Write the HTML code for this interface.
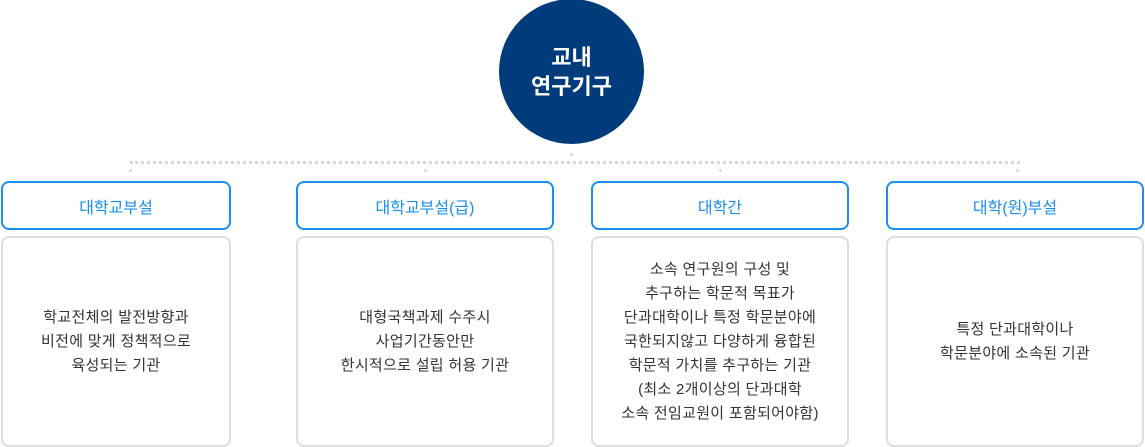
<!DOCTYPE html>
<html><head><meta charset="utf-8"><style>
body{margin:0;width:1145px;height:447px;background:#fff;position:relative;overflow:hidden;font-family:"Liberation Sans","Noto Sans CJK KR",sans-serif}
.c{position:absolute;left:499px;top:-1px;width:145px;height:145px;border-radius:50%;background:#003b7c;color:#fff;font-weight:bold;font-size:22px;line-height:29px;display:flex;align-items:center;justify-content:center;text-align:center}
.h{position:absolute;top:181px;height:45px;border:2px solid #1a8ff0;border-radius:8px;color:#1a8ff0;font-size:16px;display:flex;align-items:center;justify-content:center;box-sizing:content-box}
.b{position:absolute;top:236px;height:207px;border:2px solid #ddd;border-radius:8px;color:#333;font-size:15px;line-height:24px;letter-spacing:0.3px;display:flex;align-items:center;justify-content:center;text-align:center}
.dl{position:absolute;top:161px;left:130px;width:890px;border-top:3px dotted #d8d8d8}
.d{position:absolute;width:3px;height:3px;background:#d8d8d8;border-radius:50%}
</style></head><body>
<div class="c">교내<br>연구기구</div>
<div class="dl"></div>
<div class="d" style="left:570px;top:153px"></div>
<div class="d" style="left:129px;top:169px"></div>
<div class="d" style="left:424px;top:169px"></div>
<div class="d" style="left:719px;top:169px"></div>
<div class="d" style="left:1016px;top:169px"></div>
<div class="h" style="left:1px;width:226px">대학교부설</div>
<div class="h" style="left:296px;width:254px">대학교부설(급)</div>
<div class="h" style="left:591px;width:254px">대학간</div>
<div class="h" style="left:886px;width:254px">대학(원)부설</div>
<div class="b" style="left:1px;width:226px">학교전체의 발전방향과<br>비전에 맞게 정책적으로<br>육성되는 기관</div>
<div class="b" style="left:296px;width:254px">대형국책과제 수주시<br>사업기간동안만<br>한시적으로 설립 허용 기관</div>
<div class="b" style="left:591px;width:254px">소속 연구원의 구성 및<br>추구하는 학문적 목표가<br>단과대학이나 특정 학문분야에<br>국한되지않고 다양하게 융합된<br>학문적 가치를 추구하는 기관<br>(최소 2개이상의 단과대학<br>소속 전임교원이 포함되어야함)</div>
<div class="b" style="left:886px;width:254px">특정 단과대학이나<br>학문분야에 소속된 기관</div>
</body></html>
